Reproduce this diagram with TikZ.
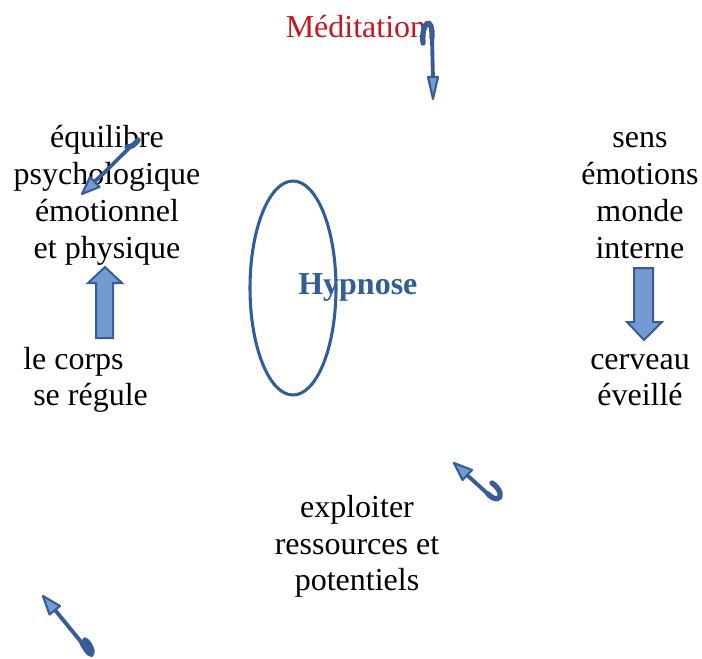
\documentclass[tikz,border=0pt]{standalone}
\usepackage{fontspec}
\setmainfont{Liberation Serif}
\definecolor{dblue}{RGB}{47,94,152}
\definecolor{afill}{RGB}{115,155,210}
\definecolor{aline}{RGB}{56,93,150}
\definecolor{mred}{RGB}{200,22,32}
\begin{document}
\begin{tikzpicture}[x=0.75pt,y=-0.75pt,
  txt/.style={anchor=base,inner sep=0pt,font=\fontsize{24}{27.6}\selectfont},
  blockarrow/.style={fill=afill,draw=aline,line width=1.5pt,line join=miter},
  curvebody/.style={draw=aline,line width=2.9pt,line cap=round},
  hookpart/.style={draw=aline,line width=4pt,line cap=round},
  tiphead/.style={fill=afill,draw=aline,line width=1.6pt,line join=round}]
\useasboundingbox (0,0) rectangle (702,659);

% texts
\node[txt,text=mred] (med) at (356,38) {Méditation};
\node[txt] (eq1) at (107,148) {équilibre};
\node[txt] (eq2) at (107,185) {psychologique};
\node[txt] (eq3) at (107,221) {émotionnel};
\node[txt] (eq4) at (107,258) {et physique};
\node[txt] (s1) at (640,148) {sens};
\node[txt] (s2) at (640,185) {émotions};
\node[txt] (s3) at (640,221) {monde};
\node[txt] (s4) at (640,258) {interne};
\node[txt,anchor=base west] (c1) at (23,369) {le corps};
\node[txt,anchor=base west] (c2) at (33,405) {se régule};
\node[txt] (v1) at (640,369) {cerveau};
\node[txt] (v2) at (640,405) {éveillé};
\node[txt] (x1) at (357,517) {exploiter};
\node[txt] (x2) at (357,554) {ressources et};
\node[txt] (x3) at (357,590) {potentiels};

% ellipse and Hypnose
\draw[dblue,line width=2.3pt] (293,288) ellipse [x radius=43, y radius=107];
\node[txt,anchor=base west,text=dblue,font=\fontsize{24}{27.6}\selectfont\bfseries] (hyp) at (298,294) {Hypnose};

% block arrows
\path[blockarrow] (96,338) -- (96,283) -- (88,283) -- (105,267) -- (122,283) -- (113,283) -- (113,338) -- cycle;
\path[blockarrow] (634,268) -- (653,268) -- (653,322) -- (662,322) -- (644,340) -- (627,322) -- (634,322) -- cycle;

% curved arrow near Meditation
\draw[hookpart] (423,43) .. controls (421,22) and (433,14) .. (432,38);
\draw[curvebody] (432,38) -- (433,80);
\path[tiphead] (428,77) -- (438,77) -- (433,99) -- cycle;

% curved arrow near equilibre
\draw[curvebody] (94,182) .. controls (108,170) and (124,152) .. (138,140);
\draw[hookpart] (138,140) .. controls (135,145) and (131,147) .. (127,147);
\path[tiphead] (82,194) -- (99.5,187) -- (90,177) -- cycle;

% curved arrow lower right
\draw[curvebody] (467,475) -- (488,494);
\draw[hookpart] (488,494) .. controls (495,501) and (501,500) .. (500,493) .. controls (499,489) and (495,485) .. (492,483);
\path[tiphead] (454,463) -- (462.5,480) -- (472,470) -- cycle;

% curved arrow lower left
\draw[curvebody] (55,610) -- (82,643);
\draw[hookpart] (82,643) .. controls (87,652) and (92,658) .. (92,651) .. controls (91,646) and (88,642) .. (85,640);
\path[tiphead] (43,596) -- (49.5,614.5) -- (60,606) -- cycle;
\end{tikzpicture}
\end{document}
